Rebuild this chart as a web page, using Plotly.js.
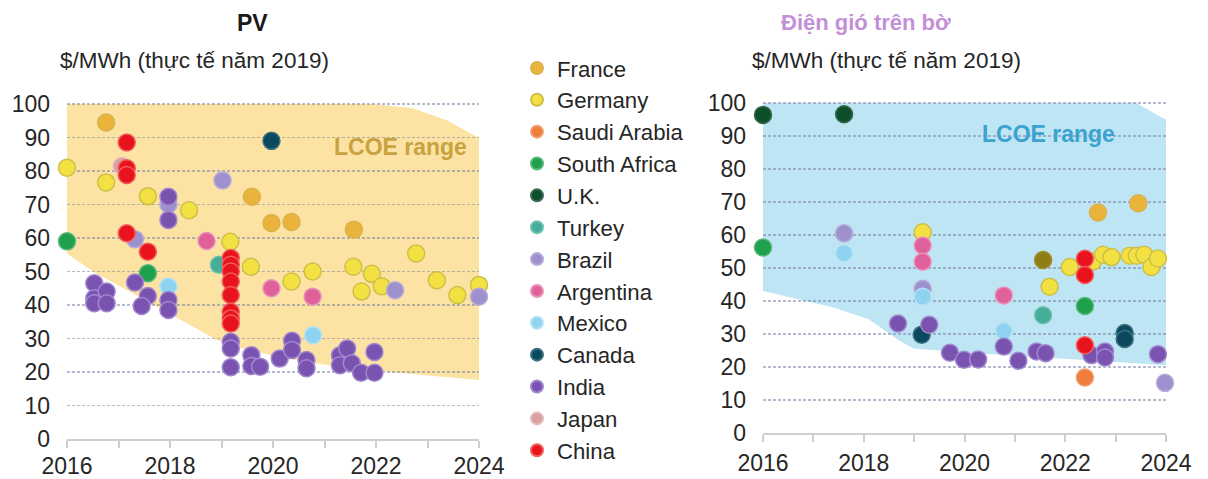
<!DOCTYPE html>
<html>
<head>
<meta charset="utf-8">
<script src="https://cdn.plot.ly/plotly-3.0.1.min.js"></script>
<style>
  html, body { margin: 0; padding: 0; background: #ffffff; }
  #chart { width: 1208px; height: 479px; }
</style>
</head>
<body>
<div id="chart"></div>
<script>
// ---- Country list (legend order) ----
const countries = ['France', 'Germany', 'Saudi Arabia', 'South Africa', 'U.K.', 'Turkey',
  'Brazil', 'Argentina', 'Mexico', 'Canada', 'India', 'Japan', 'China'];

// ---- Axis ticks ----
const yearTicks = [2016, 2017, 2018, 2019, 2020, 2021, 2022, 2023, 2024];
const yearTickText = ['2016', '', '2018', '', '2020', '', '2022', '', '2024'];
const valueTicks = [0, 10, 20, 30, 40, 50, 60, 70, 80, 90, 100];

// ---- PV auction results: [year, $/MWh] ----
const pvFrance = [[2016.76, 94.5], [2019.59, 72.3], [2019.97, 64.5], [2020.36, 64.8], [2021.57, 62.5]];
const pvGermany = [[2016.0, 81], [2016.76, 76.6], [2017.57, 72.5], [2018.37, 68.3], [2019.17, 58.9],
  [2019.57, 51.4], [2020.36, 47], [2020.77, 50], [2021.56, 51.4], [2021.72, 44], [2021.92, 49.3],
  [2022.11, 45.6], [2022.78, 55.4], [2023.18, 47.4], [2023.58, 43], [2024.0, 46]];
const pvSaudiArabia = [];
const pvSouthAfrica = [[2016.0, 59], [2017.57, 49.5]];
const pvUK = [];
const pvTurkey = [[2018.95, 52]];
const pvBrazil = [[2017.32, 59.6], [2017.97, 70], [2019.02, 77.2], [2022.37, 44.4], [2024.0, 42.5]];
const pvArgentina = [[2018.71, 59.1], [2019.97, 45], [2020.77, 42.5]];
const pvMexico = [[2017.97, 45.5], [2020.78, 31]];
const pvCanada = [[2019.97, 89]];
const pvIndia = [[2016.53, 46.5], [2016.53, 42], [2016.53, 40.5], [2016.77, 44], [2016.77, 40.5],
  [2017.32, 46.7], [2017.57, 42.7], [2017.45, 39.7], [2017.97, 72.3], [2017.97, 65.4],
  [2017.97, 41.5], [2017.97, 38.5], [2019.18, 29], [2019.18, 27], [2019.18, 21.4],
  [2019.58, 25], [2019.58, 21.8], [2019.75, 21.6], [2020.13, 24], [2020.37, 29.3],
  [2020.37, 26.6], [2020.65, 23.6], [2020.65, 21.1], [2021.3, 25], [2021.3, 22],
  [2021.44, 27], [2021.53, 22.6], [2021.71, 19.8], [2021.97, 26], [2021.97, 19.8]];
const pvJapan = [[2017.06, 81.5]];
const pvChina = [[2017.16, 88.5], [2017.16, 80.8], [2017.16, 78.8], [2017.16, 61.4], [2017.57, 55.9],
  [2019.18, 54], [2019.18, 52], [2019.18, 50], [2019.18, 47], [2019.18, 43], [2019.18, 38],
  [2019.18, 36], [2019.18, 34.5]];

// ---- Onshore wind auction results: [year, $/MWh] ----
const windFrance = [[2022.65, 66.8], [2023.45, 69.6]];
const windFranceOlive = [[2021.56, 52.4]];
const windGermany = [[2019.17, 60.8], [2021.69, 44.3], [2022.09, 50.3], [2022.55, 52], [2022.75, 54],
  [2022.92, 53.3], [2023.28, 53.7], [2023.42, 53.7], [2023.57, 54], [2023.71, 50.3], [2023.84, 52.9]];
const windSaudiArabia = [[2022.39, 16.8]];
const windSouthAfrica = [[2016.0, 56.2], [2022.39, 38.5]];
const windUK = [[2016.0, 96.4], [2017.61, 96.6]];
const windTurkey = [[2021.56, 35.7]];
const windBrazil = [[2017.61, 60.5], [2019.17, 43.7], [2023.98, 15.2]];
const windArgentina = [[2019.17, 56.8], [2019.17, 51.9], [2020.78, 41.7]];
const windMexico = [[2017.61, 54.5], [2019.17, 41.3], [2020.78, 30.9]];
const windCanada = [[2019.15, 29.8], [2023.18, 30.3], [2023.18, 28.5]];
const windIndia = [[2018.68, 33.2], [2019.3, 32.8], [2019.71, 24.3], [2019.99, 22.2], [2020.27, 22.3],
  [2020.78, 26.2], [2021.07, 21.9], [2021.43, 24.7], [2021.61, 24.2], [2022.52, 23.6],
  [2022.79, 24.7], [2022.79, 22.9], [2023.84, 23.9]];
const windJapan = [];
const windChina = [[2022.39, 52.8], [2022.39, 47.9], [2022.39, 26.6]];

// ---- LCOE range envelopes: [year, $/MWh] ----
const pvRangeUpper = [[2016, 100], [2021.9, 100], [2022.7, 98.8], [2023.4, 95], [2023.8, 91.5], [2024, 90]];
const pvRangeLower = [[2016, 55.4], [2016.5, 50], [2017.16, 44.5], [2017.8, 39], [2018.45, 33.5],
  [2018.9, 29.6], [2019.3, 27.5], [2020.07, 24.6], [2021.04, 22.1], [2021.7, 21.1],
  [2022.47, 19.7], [2024, 17.6]];
const windRangeUpper = [[2016, 100], [2023.41, 100], [2023.94, 95.4], [2024, 95]];
const windRangeLower = [[2016, 43], [2017.4, 38], [2018.1, 34.5], [2018.7, 28], [2019.0, 25.5],
  [2020.0, 24.5], [2021.4, 23], [2022.7, 21.8], [2024, 20.5]];

const pvData = [pvFrance, pvGermany, pvSaudiArabia, pvSouthAfrica, pvUK, pvTurkey, pvBrazil,
  pvArgentina, pvMexico, pvCanada, pvIndia, pvJapan, pvChina];
const windData = [windFrance, windGermany, windSaudiArabia, windSouthAfrica, windUK, windTurkey,
  windBrazil, windArgentina, windMexico, windCanada, windIndia, windJapan, windChina];

// ---- Styling ----
const FONT = 'Liberation Sans, Arial, Helvetica, sans-serif';
const TEXT = '#262626';
const markerFill = {
  'France': '#eab43c', 'Germany': '#f3e144', 'Saudi Arabia': '#ef7d3c', 'South Africa': '#1fa04c',
  'U.K.': '#0d4f2a', 'Turkey': '#45ad98', 'Brazil': '#9e90cc', 'Argentina': '#e0609a',
  'Mexico': '#8fd3f0', 'Canada': '#0b4a5e', 'India': '#7a53b0', 'Japan': '#d9a0a0', 'China': '#e8131c'
};
const markerEdge = {
  'France': '#d9b24c', 'Germany': '#cdbf48', 'Saudi Arabia': '#f0a070', 'South Africa': '#55b877',
  'U.K.': '#3a6a50', 'Turkey': '#70c2b2', 'Brazil': '#b6abd9', 'Argentina': '#eb92ba',
  'Mexico': '#b4e2f5', 'Canada': '#3d7282', 'India': '#a089cf', 'Japan': '#e6bcbc', 'China': '#f25e5e'
};

function pointTrace(points, name, xa, ya, fill, edge, showLegend, rank) {
  return {
    type: 'scatter', mode: 'markers', name: name, legendgroup: name,
    x: points.map(p => p[0]), y: points.map(p => p[1]),
    xaxis: xa, yaxis: ya, cliponaxis: false, hoverinfo: 'skip',
    showlegend: showLegend, legendrank: rank,
    marker: { size: 17, color: fill, line: { width: 1.5, color: edge } }
  };
}

const traces = [];
countries.forEach((c, i) => {
  const pvHas = pvData[i].length > 0;
  traces.push(pointTrace(pvData[i], c, 'x', 'y', markerFill[c], markerEdge[c], pvHas, i + 1));
});
traces.push(pointTrace(windFranceOlive, 'France', 'x2', 'y2', '#8f7d16', '#a08d2c', false, 1));
countries.forEach((c, i) => {
  const pvHas = pvData[i].length > 0;
  traces.push(pointTrace(windData[i], c, 'x2', 'y2', markerFill[c], markerEdge[c], !pvHas, i + 1));
});

// Envelope polygon as an SVG path in data coordinates (upper edge forward, lower edge back)
function envelopePath(upper, lower) {
  const pts = upper.concat(lower.slice().reverse());
  return pts.map((p, k) => (k === 0 ? 'M' : 'L') + p[0] + ',' + p[1]).join(' ') + ' Z';
}

const W = 1208, H = 479;
const px = v => v / W;
const py = v => 1 - v / H;

function xAxis(domain, standoff) {
  return {
    domain: domain, range: [2016, 2024], tickvals: yearTicks, ticktext: yearTickText,
    showgrid: false, zeroline: false, showline: true, linecolor: '#cfcfcf', linewidth: 2,
    ticks: 'outside', ticklen: 7, tickwidth: 2, tickcolor: '#cfcfcf',
    ticklabelstandoff: standoff,
    tickfont: { family: FONT, size: 23, color: TEXT }, fixedrange: true
  };
}
function yAxis(domain, anchor) {
  return {
    domain: domain, range: [0, 100.5], tickvals: valueTicks, anchor: anchor,
    showgrid: true, gridcolor: 'rgba(120,130,165,0.55)', gridwidth: 1.3, griddash: '3px,2px',
    zeroline: false, showline: false, ticks: '', ticklabelstandoff: 16,
    tickfont: { family: FONT, size: 23, color: TEXT }, fixedrange: true
  };
}

const layout = {
  width: W, height: H,
  margin: { l: 0, r: 0, t: 0, b: 0, pad: 0 },
  paper_bgcolor: '#ffffff', plot_bgcolor: 'rgba(0,0,0,0)',
  font: { family: FONT, color: TEXT },
  xaxis: Object.assign(xAxis([px(67), px(479)], -2), { anchor: 'y' }),
  yaxis: yAxis([py(439), py(439 - 100.5 * 3.35)], 'x'),
  xaxis2: Object.assign(xAxis([px(763), px(1166)], 1), { anchor: 'y2' }),
  yaxis2: yAxis([py(433), py(433 - 100.5 * 3.3)], 'x2'),
  showlegend: true,
  legend: {
    x: px(517), y: py(47), xanchor: 'left', yanchor: 'top',
    font: { family: FONT, size: 22.2, color: TEXT },
    bgcolor: 'rgba(0,0,0,0)', itemsizing: 'constant', traceorder: 'normal',
    tracegroupgap: 0, itemclick: false, itemdoubleclick: false
  },
  shapes: [
    { type: 'path', xref: 'x', yref: 'y', layer: 'below', path: envelopePath(pvRangeUpper, pvRangeLower),
      fillcolor: '#fce3a3', line: { width: 0 } },
    { type: 'path', xref: 'x2', yref: 'y2', layer: 'below', path: envelopePath(windRangeUpper, windRangeLower),
      fillcolor: '#bee5f4', line: { width: 0 } }
  ],
  annotations: [
    { text: '<b>PV</b>', xref: 'paper', yref: 'paper', x: px(253), y: py(23), xanchor: 'center', yanchor: 'middle',
      showarrow: false, font: { family: FONT, size: 23, color: '#1a1a1a' } },
    { text: '$/MWh (thực tế năm 2019)', xref: 'paper', yref: 'paper', x: px(58), y: py(60), xanchor: 'left', yanchor: 'middle',
      showarrow: false, font: { family: FONT, size: 22.5, color: TEXT } },
    { text: '<b>Điện gió trên bờ</b>', xref: 'paper', yref: 'paper', x: px(866), y: py(23), xanchor: 'center', yanchor: 'middle',
      showarrow: false, font: { family: FONT, size: 22, color: '#c48fd8' } },
    { text: '$/MWh (thực tế năm 2019)', xref: 'paper', yref: 'paper', x: px(750), y: py(60), xanchor: 'left', yanchor: 'middle',
      showarrow: false, font: { family: FONT, size: 22.5, color: TEXT } },
    { text: '<b>LCOE range</b>', xref: 'x', yref: 'y', x: 2022.47, y: 87.3, xanchor: 'center', yanchor: 'middle',
      showarrow: false, font: { family: FONT, size: 23, color: '#c9a23f' } },
    { text: '<b>LCOE range</b>', xref: 'x2', yref: 'y2', x: 2021.67, y: 90.6, xanchor: 'center', yanchor: 'middle',
      showarrow: false, font: { family: FONT, size: 23, color: '#3aa3cf' } }
  ]
};

Plotly.newPlot('chart', traces, layout, { displayModeBar: false, staticPlot: true });
</script>
</body>
</html>
